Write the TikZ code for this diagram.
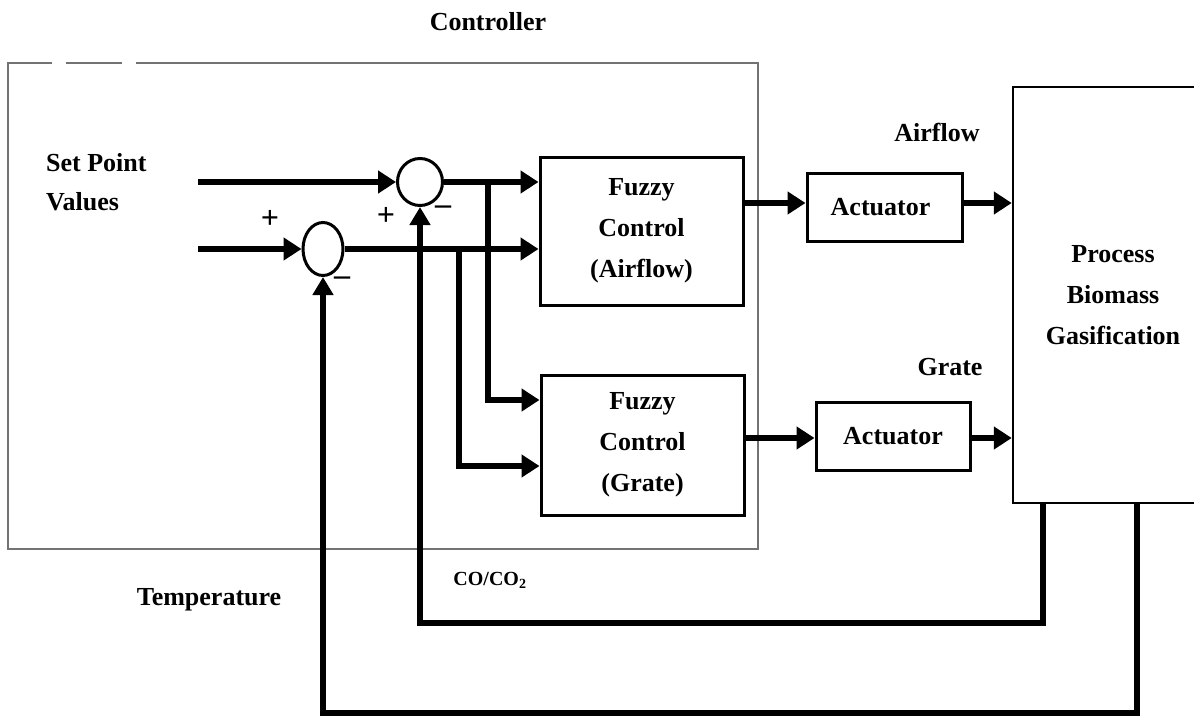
\documentclass[tikz,border=0pt]{standalone}
\usepackage{fontspec}
\setmainfont{Liberation Serif}
\usetikzlibrary{arrows.meta,shapes.geometric}
\begin{document}
\begin{tikzpicture}[x=1pt,y=-1pt,
  lbl/.style={font=\fontsize{26}{30}\selectfont\bfseries, inner sep=0pt},
  sgn/.style={font=\fontsize{32}{32}\selectfont\bfseries, inner sep=0pt},
  blk/.style={draw, line width=3pt, rectangle, inner sep=0pt, align=center,
    font=\fontsize{26}{41}\selectfont\bfseries},
  sumj/.style={draw, ellipse, line width=3pt, inner sep=0pt},
  arr/.style={line width=6.5pt, -{Triangle[length=18pt,width=22pt]}},
  fb/.style={line width=6pt, line join=miter, -{Triangle[length=18pt,width=20pt]}},
  ctl/.style={draw=black!55, line width=1.5pt}]
\useasboundingbox (0,0) rectangle (1194,717);
\clip (0,0) rectangle (1194,717);

% controller frame
\draw[ctl] (52,63) -- (8,63) -- (8,549) -- (758,549) -- (758,63) -- (136,63);
\draw[ctl] (66,63) -- (122,63);
\node[lbl] (ctrl) at (488,22) {Controller};

% text
\node[lbl, anchor=west, align=left, font=\fontsize{26}{39}\selectfont\bfseries] (sp) at (46,182) {Set Point\\Values};

% summing junctions
\node[sumj, minimum width=45pt, minimum height=47pt] (c1) at (420,182) {};
\node[sumj, minimum width=40pt, minimum height=53pt] (c2) at (323,249) {};

% blocks
\node[blk, minimum width=203pt, minimum height=148pt] (fa) at (641.5,231) {Fuzzy\\Control\\(Airflow)};
\node[blk, minimum width=203pt, minimum height=140pt] (fg) at (642.5,445) {Fuzzy\\Control\\(Grate)};
\node[blk, minimum width=155pt, minimum height=68pt] (a1) at (884.5,207) {Actuator\hspace{8pt}};
\node[blk, minimum width=154pt, minimum height=68pt] (a2) at (893,436) {Actuator};
\node[blk, line width=2.5pt, minimum width=200pt, minimum height=416pt] (proc) at (1113,295) {Process\\Biomass\\Gasification};

% labels
\node[lbl] (lair) at (937,132) {Airflow};
\node[lbl] (lgr) at (950,367) {Grate};
\node[lbl] (ltemp) at (209,600) {Temperature};
\node[lbl, font=\fontsize{20}{24}\selectfont\bfseries] (lco) at (490,580) {CO/CO\textsubscript{2}};
\node[sgn] (p1) at (270,219) {+};
\node[sgn] (p2) at (386,216) {+};
\node[sgn] (m1) at (443,210) {--};
\node[sgn] (m2) at (342,281) {--};

% coordinates
\coordinate (in1) at (198,182);
\coordinate (in2) at (198,249);
\coordinate (j1) at (488,182);
\coordinate (j2) at (459,249);
\coordinate (f1) at (1043,623);
\coordinate (f2) at (1137,713);

% connectors
\draw[arr] (in1) -- (c1.west);
\draw[arr] (in2) -- (c2.west);
\draw[arr] (c1.east) -- (fa.west |- c1);
\draw[arr] (c2.east) -- (fa.west |- c2);
\draw[arr, line join=miter] (j1) |- (fg.west |- 0,400);
\draw[arr, line join=miter] (j2) |- (fg.west |- 0,466);
\draw[arr] (fa.east |- 0,203) -- (a1.west |- 0,203);
\draw[arr] (a1.east |- 0,203) -- (proc.west |- 0,203);
\draw[arr] (fg.east |- 0,438) -- (a2.west |- 0,438);
\draw[arr] (a2.east |- 0,438) -- (proc.west |- 0,438);
\draw[fb] (proc.south -| f1) -- (f1) -| (c1.south);
\draw[fb] (proc.south -| f2) -- (f2) -| (c2.south);
\end{tikzpicture}
\end{document}
